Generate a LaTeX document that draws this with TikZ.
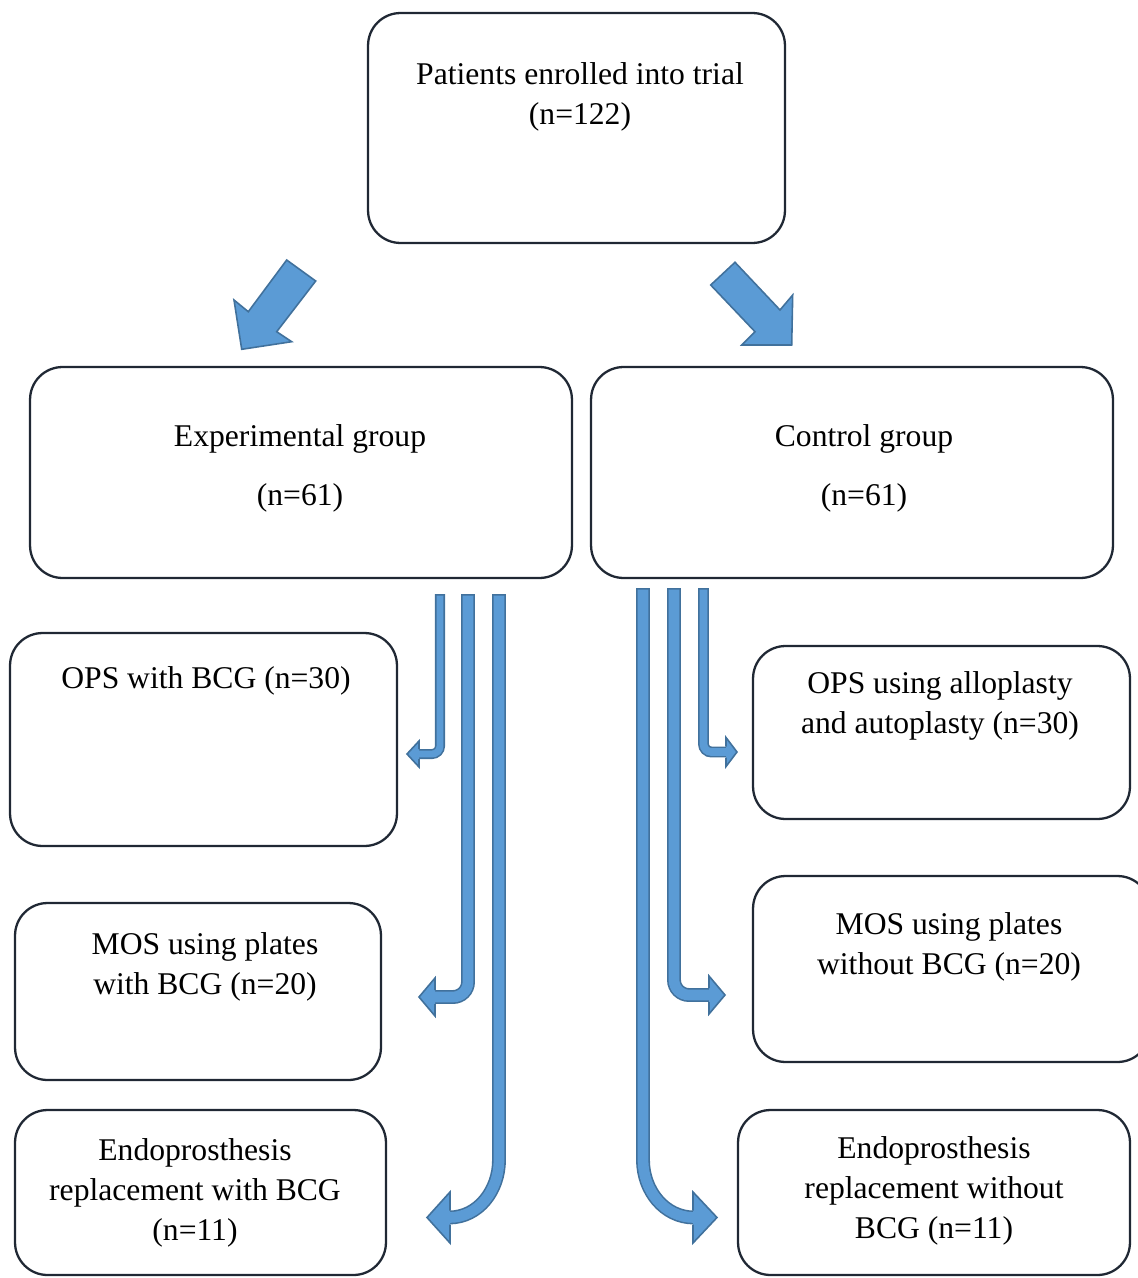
\documentclass[tikz,border=0pt]{standalone}
\usepackage{fontspec}
\setmainfont{Liberation Serif}
\usepackage{tikz}
\usetikzlibrary{positioning}

\definecolor{boxline}{RGB}{32,40,52}
\definecolor{arrowfill}{RGB}{91,155,213}
\definecolor{arrowedge}{RGB}{65,113,156}

\tikzset{
  box/.style={draw=boxline, line width=1.3pt, rounded corners=0.65cm, inner sep=0pt},
  txt/.style={align=center, inner sep=0pt, font=\fontsize{18pt}{22.7pt}\selectfont},
  shaft/.style={draw=arrowedge, line width=#1,
                postaction={draw=arrowfill, line width=#1-1.8pt, shorten <=0.9pt}},
  arrowhead/.style={draw=arrowedge, fill=arrowfill, line width=0.9pt, line join=miter}
}

\begin{document}
\begin{tikzpicture}[x=0.02cm, y=-0.02cm]
      \useasboundingbox (0, 0) rectangle (1138, 1278);
      % boxes
      \node [box, minimum width=8.34cm, minimum height=4.6cm] (trial) at (576.5, 128) {};
      \node [box, minimum width=10.84cm, minimum height=4.22cm] (exp) at (301, 472.5) {};
      \node [box, minimum width=10.44cm, minimum height=4.22cm] (ctrl) at (852, 472.5) {};
      \node [box, minimum width=7.74cm, minimum height=4.26cm] (opsA) at (203.5, 739.5) {};
      \node [box, minimum width=7.32cm, minimum height=3.54cm] (mosA) at (198, 991.5) {};
      \node [box, minimum width=7.42cm, minimum height=3.3cm] (endoA) at (200.5, 1192.5) {};
      \node [box, minimum width=7.54cm, minimum height=3.46cm] (opsB) at (941.5, 732.5) {};
      \node [box, minimum width=7.94cm, minimum height=3.72cm] (mosB) at (951.5, 969) {};
      \node [box, minimum width=7.84cm, minimum height=3.3cm] (endoB) at (934, 1192.5) {};
      % texts
      \node [txt] (trialtxt) at (580, 97) {Patients enrolled into trial\\(n=122)};
      \node [txt] (exptxt) at (300, 468) {Experimental group\\[11pt](n=61)};
      \node [txt] (ctrltxt) at (864, 468) {Control group\\[11pt](n=61)};
      \node [txt] (opsAtxt) at (206, 681) {OPS with BCG (n=30)};
      \node [txt] (mosAtxt) at (205, 967) {MOS using plates\\with BCG (n=20)};
      \node [txt] (endoAtxt) at (195, 1193) {Endoprosthesis\\replacement with BCG\\(n=11)};
      \node [txt] (opsBtxt) at (940, 705.5) {OPS using alloplasty\\and autoplasty (n=30)};
      \node [txt] (mosBtxt) at (949, 947) {MOS using plates\\without BCG (n=20)};
      \node [txt] (endoBtxt) at (934, 1191) {Endoprosthesis\\replacement without\\BCG (n=11)};
      % block arrows from the trial box
      \filldraw [arrowhead] (286.7, 260) -- (315.7, 281) -- (276.7, 331.7) -- (291.7, 341.7)
            -- (241.7, 349.3) -- (234, 300) -- (248.3, 311.7) -- cycle;
      \filldraw [arrowhead] (735, 262.3) -- (710.7, 285) -- (755, 331.7) -- (741.7, 345)
            -- (791.7, 345) -- (792.7, 295) -- (780, 310) -- cycle;
      % experimental group arrows
      \coordinate (expA) at (440, 594);
      \coordinate (expB) at (468, 594);
      \coordinate (expC) at (499, 594);
      \draw [shaft=5.7pt, rounded corners=0.16cm] (expA) |- (418, 754);
      \filldraw [arrowhead] (419, 749) -- (419, 741) -- (407, 754) -- (419, 767) -- (419, 759);
      \draw [shaft=7.9pt, rounded corners=0.3cm] (expB) |- (434, 997);
      \filldraw [arrowhead] (435, 990) -- (435, 978) -- (419, 997) -- (435, 1016) -- (435, 1004);
      \draw [shaft=7.9pt] (expC) -- (499, 1160) to [out=-90, in=0] (449, 1217.5);
      \filldraw [arrowhead] (450, 1210.5) -- (450, 1192) -- (427, 1217.5) -- (450, 1243) -- (450, 1224.5);
      % control group arrows
      \coordinate (ctrlA) at (703.5, 588);
      \coordinate (ctrlB) at (674, 588);
      \coordinate (ctrlC) at (643, 588);
      \draw [shaft=6.2pt, rounded corners=0.16cm] (ctrlA) |- (727, 752);
      \filldraw [arrowhead] (726, 746.5) -- (726, 737.5) -- (737, 752) -- (726, 766.5) -- (726, 757.5);
      \draw [shaft=7.9pt, rounded corners=0.3cm] (ctrlB) |- (710, 995);
      \filldraw [arrowhead] (709, 988) -- (709, 976) -- (725, 995) -- (709, 1014) -- (709, 1002);
      \draw [shaft=7.9pt] (ctrlC) -- (643, 1160) to [out=-90, in=180] (694, 1217.5);
      \filldraw [arrowhead] (693, 1210.5) -- (693, 1192) -- (717, 1217.5) -- (693, 1243) -- (693, 1224.5);
\end{tikzpicture}
\end{document}
